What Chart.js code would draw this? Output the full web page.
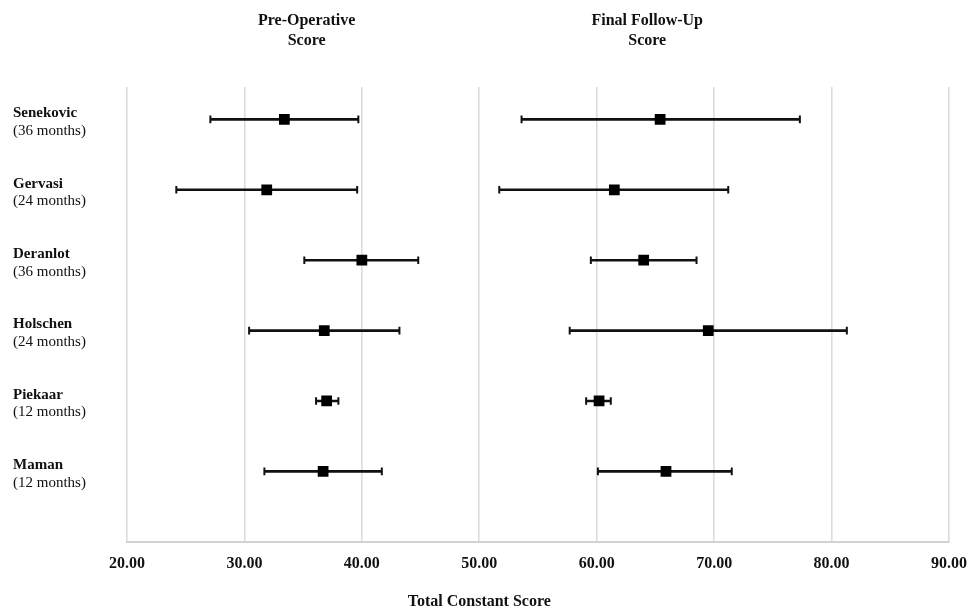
<!DOCTYPE html>
<html>
<head>
<meta charset="utf-8">
<script src="https://cdn.jsdelivr.net/npm/chart.js@4"></script>
<style>
  body { margin: 0; background: #fff; }
</style>
</head>
<body>
<canvas id="forest" width="969" height="610"></canvas>
<script>
const studies = ['Senekovic', 'Gervasi', 'Deranlot', 'Holschen', 'Piekaar', 'Maman'];
const followUps = ['(36 months)', '(24 months)', '(36 months)', '(24 months)', '(12 months)', '(12 months)'];

// pre-operative score: mean and interval ends
const preMean = [33.4, 31.9, 40.0, 36.8, 37.0, 36.7];
const preLow = [27.1, 24.2, 35.1, 30.4, 36.1, 31.7];
const preHigh = [39.7, 39.6, 44.8, 43.2, 38.0, 41.7];

// final follow-up score
const postMean = [65.4, 61.5, 64.0, 69.5, 60.2, 65.9];
const postLow = [53.6, 51.7, 59.5, 57.7, 59.1, 60.1];
const postHigh = [77.3, 71.2, 68.5, 81.3, 61.2, 71.5];

const xTicks = [20, 30, 40, 50, 60, 70, 80, 90];
const panelTitles = [['Pre-Operative', 'Score'], ['Final Follow-Up', 'Score']];
const axisTitle = 'Total Constant Score';

const serif = '"Liberation Serif", "Times New Roman", serif';
const ink = '#111';

// one short line per study and panel, caps drawn as rotated line points
const whiskers = [];
[[preLow, preHigh], [postLow, postHigh]].forEach(([lows, highs]) => {
  studies.forEach((s, i) => {
    whiskers.push({
      type: 'line',
      data: [{ x: lows[i], y: i + 1 }, { x: highs[i], y: i + 1 }],
      borderColor: ink,
      borderWidth: 2.6,
      pointStyle: 'line',
      rotation: 90,
      pointRadius: 3.8,
      pointBorderWidth: 2,
      pointBorderColor: ink,
      order: 2
    });
  });
});

const means = {
  type: 'scatter',
  data: preMean.map((v, i) => ({ x: v, y: i + 1 }))
    .concat(postMean.map((v, i) => ({ x: v, y: i + 1 }))),
  pointStyle: 'rect',
  pointRadius: 7.6,
  backgroundColor: '#000',
  borderColor: '#000',
  borderWidth: 0,
  order: 1
};

const labelsPlugin = {
  id: 'labels',
  afterDraw(chart) {
    const { ctx, scales: { x, y } } = chart;
    ctx.save();
    ctx.fillStyle = ink;
    ctx.textBaseline = 'middle';
    ctx.textAlign = 'left';
    studies.forEach((s, i) => {
      const py = y.getPixelForValue(i + 1);
      ctx.font = 'bold 15px ' + serif;
      ctx.fillText(s, 13, py - 6);
      ctx.font = '15px ' + serif;
      ctx.fillText(followUps[i], 13, py + 11.5);
    });

    ctx.textAlign = 'center';
    ctx.font = 'bold 16px ' + serif;
    const centres = [x.getPixelForValue(35.3), x.getPixelForValue(64.3)];
    panelTitles.forEach((lines, k) => {
      ctx.fillText(lines[0], centres[k], 21);
      ctx.fillText(lines[1], centres[k], 41);
    });

    ctx.fillText(axisTitle, x.getPixelForValue(50), 602);
    ctx.restore();
  }
};

new Chart(document.getElementById('forest'), {
  data: { datasets: [means].concat(whiskers) },
  options: {
    responsive: false,
    animation: false,
    devicePixelRatio: 1,
    layout: { padding: { left: 127, right: 0, top: 87, bottom: 25 } },
    plugins: { legend: { display: false }, tooltip: { enabled: false } },
    scales: {
      x: {
        type: 'linear',
        min: xTicks[0],
        max: xTicks[xTicks.length - 1],
        afterBuildTicks: (scale) => { scale.ticks = xTicks.map(v => ({ value: v })); },
        // let the last label run to the page edge like the original
        afterFit: (scale) => { scale.paddingRight = 20; scale.paddingLeft = 0; },
        grid: { color: '#dcdcdc', lineWidth: 1.6, drawTicks: false },
        border: { color: '#d2d2d2', width: 2 },
        ticks: {
          padding: 12,
          color: ink,
          font: { family: serif, size: 16, weight: 'bold' },
          callback: (v) => Number(v).toFixed(2)
        }
      },
      y: {
        type: 'linear',
        reverse: true,
        min: 0.54,
        max: 7.0,
        display: false
      }
    }
  },
  plugins: [labelsPlugin]
});
</script>
</body>
</html>
